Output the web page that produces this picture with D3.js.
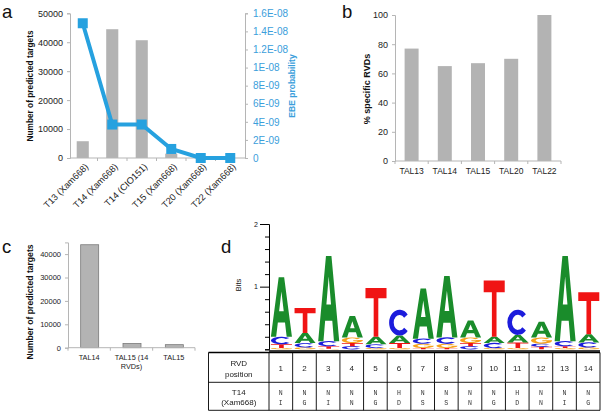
<!DOCTYPE html>
<html><head><meta charset="utf-8">
<script src="https://cdn.jsdelivr.net/npm/d3@7"></script>
<style>
html,body{margin:0;padding:0;background:#fff;}
svg{display:block;font-family:"Liberation Sans",Arial,Helvetica,sans-serif;}
</style></head><body>
<svg id="chart" width="602" height="412"></svg>
<script>
// ---------------- data ----------------
// panel a
const aCategories = ["T13 (Xam668)", "T14 (Xam668)", "T14 (CIO151)", "T15 (Xam668)", "T20 (Xam668)", "T22 (Xam668)"];
const aTargets = [5800, 44500, 40700, 1500, 0, 0];
const aEbeProb = [1.49e-8, 3.7e-9, 3.7e-9, 1.0e-9, 0, 0];
const aLeftTicks = [0, 10000, 20000, 30000, 40000, 50000];
const aRightTicks = [0, 2e-9, 4e-9, 6e-9, 8e-9, 1e-8, 1.2e-8, 1.4e-8, 1.6e-8];
const aRightTickLabels = ["0", "2E-09", "4E-09", "6E-09", "8E-09", "1E-08", "1.2E-08", "1.4E-08", "1.6E-08"];
// panel b
const bCategories = ["TAL13", "TAL14", "TAL15", "TAL20", "TAL22"];
const bPercent = [77, 65, 67, 70, 100];
const bTicks = [0, 20, 40, 60, 80, 100];
// panel c
const cCategories = ["TAL14", "TAL15 (14 RVDs)", "TAL15"];
const cTargets = [44000, 1800, 1300];
const cTicks = [0, 10000, 20000, 30000, 40000];
// panel d : sequence logo (bits per nucleotide at each position)
const logoPositions = ["1","2","3","4","5","6","7","8","9","10","11","12","13","14"];
const logoA = [0.95, 0.16, 1.36, 0.34, 0.12, 0.12, 0.80, 0.98, 0.27, 0.10, 0.12, 0.25, 1.36, 0.13];
const logoC = [0.12, 0.07, 0.08, 0.05, 0.06, 0.41, 0.08, 0.10, 0.05, 0.08, 0.40, 0.05, 0.08, 0.08];
const logoG = [0.02, 0.03, 0.01, 0.09, 0.02, 0.02, 0.07, 0.07, 0.09, 0.02, 0.02, 0.10, 0.02, 0.03];
const logoT = [0.06, 0.40, 0.04, 0.05, 0.78, 0.08, 0.02, 0.02, 0.05, 0.90, 0.09, 0.04, 0.03, 0.67];
const logoTicks = [0, 0.2, 0.4, 0.6, 0.8, 1, 1.2, 1.4, 1.6, 1.8, 2];
const rvdT14 = ["NI","NG","NI","NN","NG","HD","NS","NS","NN","NG","HD","NN","NI","NG"];

// ---------------- drawing ----------------
const svg = d3.select("#chart");
svg.append("rect").attr("width", 602).attr("height", 412).attr("fill", "#fff");

const BAR = "#b3b3b3", AXIS = "#b5b5b5", TXT = "#222", BLUE = "#26a1df", BLUE_T = "#3a9edb";

function styleAxis(g, lineColor, textColor, fs) {
  g.select(".domain").attr("stroke", lineColor);
  g.selectAll(".tick line").attr("stroke", lineColor);
  g.selectAll(".tick text").attr("fill", textColor).attr("font-size", fs)
    .attr("font-family", "'Liberation Sans',Arial,sans-serif");
}
function vLabel(x, y, text, fs, weight, color) {
  svg.append("text").attr("transform", `translate(${x},${y}) rotate(-90)`)
    .attr("text-anchor", "middle").attr("dy", "0.35em")
    .attr("font-size", fs).attr("font-weight", weight).attr("fill", color).text(text);
}
function panelLabel(x, y, t) {
  svg.append("text").attr("x", x).attr("y", y).attr("font-size", 18.5).attr("fill", "#111").text(t);
}

// ===== Panel a =====
panelLabel(2, 17.5, "a");
const ax = d3.scaleBand().domain(aCategories).range([68, 245]);
const ayL = d3.scaleLinear().domain([0, 50000]).range([158, 13.3]);
const ayR = d3.scaleLinear().domain([0, 1.6e-8]).range([158, 13.3]);
const aW = ax.bandwidth() * 0.41;

svg.append("g").selectAll("rect").data(aCategories).join("rect")
  .attr("x", (d) => ax(d) + (ax.bandwidth() - aW) / 2)
  .attr("y", (d, i) => ayL(aTargets[i]))
  .attr("width", aW)
  .attr("height", (d, i) => ayL(0) - ayL(aTargets[i]))
  .attr("fill", BAR);

const gaL = svg.append("g").attr("transform", "translate(70,0)")
  .call(d3.axisLeft(ayL).tickValues(aLeftTicks).tickSize(3).tickPadding(4).tickFormat(d3.format("d")));
styleAxis(gaL, AXIS, TXT, 9);
const gaR = svg.append("g").attr("transform", "translate(245,0)")
  .call(d3.axisRight(ayR).tickValues(aRightTicks).tickSize(3).tickPadding(5)
    .tickFormat((d, i) => aRightTickLabels[i]));
styleAxis(gaR, AXIS, BLUE_T, 10);

// x axis of a
const gaX = svg.append("g").attr("transform", "translate(0,158)");
gaX.append("line").attr("x1", 70).attr("x2", 245).attr("stroke", AXIS);
gaX.selectAll("line.t").data(aCategories.slice(1)).join("line").attr("class", "t")
  .attr("x1", (d) => ax(d)).attr("x2", (d) => ax(d)).attr("y1", 0).attr("y2", 3).attr("stroke", AXIS);
gaX.selectAll("text").data(aCategories).join("text")
  .attr("transform", (d) => `translate(${ax(d) + ax.bandwidth() / 2 + 4},7) rotate(-45)`)
  .attr("text-anchor", "end").attr("dy", "0.35em")
  .attr("font-size", 9.2).attr("fill", TXT).text((d) => d);

// line + markers
const aLine = d3.line().x((d, i) => ax(aCategories[i]) + ax.bandwidth() / 2).y((d) => ayR(d));
svg.append("path").datum(aEbeProb).attr("d", aLine).attr("fill", "none")
  .attr("stroke", BLUE).attr("stroke-width", 4).attr("stroke-linejoin", "round");
svg.append("g").selectAll("rect").data(aEbeProb).join("rect")
  .attr("x", (d, i) => ax(aCategories[i]) + ax.bandwidth() / 2 - 5)
  .attr("y", (d) => ayR(d) - 5).attr("width", 10).attr("height", 10).attr("fill", BLUE);

vLabel(30, 86, "Number of predicted targets", 8.3, "bold", "#111");
vLabel(292, 86, "EBE probability", 8.5, "bold", BLUE_T);

// ===== Panel b =====
panelLabel(342, 17.5, "b");
const bx = d3.scaleBand().domain(bCategories).range([395, 561]);
const by = d3.scaleLinear().domain([0, 100]).range([161, 15]);
const bW = 14;
svg.append("g").selectAll("rect").data(bCategories).join("rect")
  .attr("x", (d) => bx(d) + (bx.bandwidth() - bW) / 2)
  .attr("y", (d, i) => by(bPercent[i]))
  .attr("width", bW).attr("height", (d, i) => by(0) - by(bPercent[i]))
  .attr("fill", BAR);
const gbY = svg.append("g").attr("transform", "translate(395,0)")
  .call(d3.axisLeft(by).tickValues(bTicks).tickSize(3).tickPadding(4));
styleAxis(gbY, AXIS, TXT, 9);
const gbX = svg.append("g").attr("transform", "translate(0,161)");
gbX.append("line").attr("x1", 395).attr("x2", 561).attr("stroke", AXIS);
gbX.selectAll("line.t").data(bCategories.concat(["end"])).join("line").attr("class", "t")
  .attr("x1", (d, i) => bx.range()[0] + i * bx.step()).attr("x2", (d, i) => bx.range()[0] + i * bx.step())
  .attr("y1", 0).attr("y2", 3).attr("stroke", AXIS);
gbX.selectAll("text").data(bCategories).join("text")
  .attr("x", (d) => bx(d) + bx.bandwidth() / 2).attr("y", 13)
  .attr("text-anchor", "middle").attr("font-size", 8.5).attr("fill", TXT).text((d) => d);
vLabel(367, 89, "% specific RVDs", 9, "bold", "#111");

// ===== Panel c =====
panelLabel(2, 253, "c");
const cx = d3.scaleBand().domain(cCategories).range([68, 195]);
const cy = d3.scaleLinear().domain([0, 45000]).range([347.7, 242.4]);
const cW = 18;
svg.append("g").selectAll("rect").data(cCategories).join("rect")
  .attr("x", (d) => cx(d) + (cx.bandwidth() - cW) / 2 + 0.5)
  .attr("y", (d, i) => cy(cTargets[i]))
  .attr("width", cW).attr("height", (d, i) => cy(0) - cy(cTargets[i]))
  .attr("fill", BAR).attr("stroke", "#7a7a7a").attr("stroke-width", 0.8);
const gcY = svg.append("g").attr("transform", "translate(68,0)")
  .call(d3.axisLeft(cy).tickValues(cTicks).tickSize(3).tickPadding(4).tickFormat(d3.format("d")));
styleAxis(gcY, AXIS, TXT, 7.5);
const gcX = svg.append("g").attr("transform", "translate(0,347.7)");
gcX.append("line").attr("x1", 68).attr("x2", 195).attr("stroke", AXIS);
gcX.selectAll("line.t").data(cCategories.concat(["end"])).join("line").attr("class", "t")
  .attr("x1", (d, i) => cx.range()[0] + i * cx.step()).attr("x2", (d, i) => cx.range()[0] + i * cx.step())
  .attr("y1", 0).attr("y2", 3).attr("stroke", AXIS);
const cLab = gcX.selectAll("text").data(cCategories).join("text")
  .attr("text-anchor", "middle").attr("font-size", 7.3).attr("fill", TXT);
cLab.each(function (d) {
  const t = d3.select(this);
  const xc = cx(d) + cx.bandwidth() / 2;
  const words = d.split(" ");
  let line = [], lines = [];
  const probe = t.append("tspan");
  words.forEach((w) => {
    const test = line.concat([w]).join(" ");
    probe.text(test);
    if (probe.node().getComputedTextLength() > 38 && line.length) { lines.push(line.join(" ")); line = [w]; }
    else line.push(w);
  });
  lines.push(line.join(" "));
  probe.remove();
  lines.forEach((l, i) => t.append("tspan").attr("x", xc).attr("y", 12 + i * 9.5).text(l));
});
vLabel(30, 302, "Number of predicted targets", 8.6, "bold", "#111");

// ===== Panel d =====
panelLabel(221, 253, "d");
const dx = d3.scaleBand().domain(logoPositions).range([269, 600]);
const dy = d3.scaleLinear().domain([0, 2]).range([349.3, 224]);
const glyphs = {
  A: { c: "#1a8c2b", p: "M0,100 L37,0 L63,0 L100,100 L75,100 L67,76 L33,76 L25,100 Z M39,57 L61,57 L50,24 Z" },
  T: { c: "#f01414", p: "M0,0 L100,0 L100,21 L61,21 L61,100 L39,100 L39,21 L0,21 Z" },
  C: { c: "#1c1cdc", p: "M88.3,17.9 A50,50 0 1 0 88.3,82.1 L71.4,69.3 A28,30 0 1 1 71.4,30.7 Z" },
  G: { c: "#f6a21c", p: "M88.3,17.9 A50,50 0 1 0 100,52 L100,45 L54,45 L54,60 L76.4,60 A28,30 0 1 1 71.4,30.7 Z" }
};
const logoCols = logoPositions.map((p, i) => {
  const stack = [["A", logoA[i]], ["C", logoC[i]], ["G", logoG[i]], ["T", logoT[i]]]
    .sort((a, b) => a[1] - b[1]);
  let cum = 0;
  return stack.map(([l, h]) => { const o = { pos: p, l, y0: cum, y1: cum + h }; cum += h; return o; });
}).flat();
const lw = dx.bandwidth() * 0.89;
svg.append("g").selectAll("path").data(logoCols).join("path")
  .attr("d", (d) => glyphs[d.l].p).attr("fill", (d) => glyphs[d.l].c).attr("fill-rule", "evenodd")
  .attr("transform", (d) => {
    const x0 = dx(d.pos) + (dx.bandwidth() - lw) / 2 + 0.6;
    const ytop = dy(d.y1), h = dy(d.y0) - dy(d.y1);
    return `translate(${x0},${ytop}) scale(${lw / 100},${h / 100})`;
  });

const gdY = svg.append("g").attr("transform", "translate(269,0)")
  .call(d3.axisLeft(dy).tickValues(logoTicks).tickSizeOuter(0)
    .tickSize(4).tickFormat((d) => (d === 1 || d === 2) ? d3.format("d")(d) : ""));
gdY.select(".domain").attr("stroke", "#000");
gdY.selectAll(".tick line").attr("stroke", "#000")
  .attr("x2", (d) => (d === 1 || d === 2) ? -9 : -4);
gdY.selectAll(".tick text").attr("x", -11).attr("font-size", 7).attr("fill", "#111");
svg.append("text").attr("transform", "translate(238.5,285) rotate(-90)").attr("text-anchor", "middle")
  .attr("dy", "0.35em").attr("font-size", 7.5).attr("fill", "#111").text("Bits");

// table
const tTop = 352.5, tMid = 382.3, tBot = 410.3, tLeft = 208.5, tRight = 600;
const tbl = svg.append("g").style("filter", "grayscale(100%)");
tbl.append("line").attr("x1", tLeft).attr("x2", tRight).attr("y1", tTop).attr("y2", tTop).attr("stroke", "#000").attr("stroke-width", 1.4);
tbl.append("line").attr("x1", 269).attr("x2", tRight).attr("y1", 351).attr("y2", 351).attr("stroke", "#000").attr("stroke-width", 1.4);
tbl.append("line").attr("x1", tLeft).attr("x2", tRight).attr("y1", tMid).attr("y2", tMid).attr("stroke", "#000").attr("stroke-width", 0.9);
tbl.append("line").attr("x1", tLeft).attr("x2", tRight).attr("y1", tBot).attr("y2", tBot).attr("stroke", "#000").attr("stroke-width", 0.9);
const vx = [tLeft].concat(logoPositions.map((p) => dx(p))).concat([tRight]);
tbl.selectAll("line.v").data(vx).join("line").attr("class", "v")
  .attr("x1", (d) => d).attr("x2", (d) => d).attr("y1", tTop).attr("y2", tBot)
  .attr("stroke", "#000").attr("stroke-width", 0.9);
const firstC = (tLeft + 269) / 2;
tbl.append("text").attr("x", firstC).attr("y", 366).attr("text-anchor", "middle").attr("font-size", 8).attr("fill", TXT).text("RVD");
tbl.append("text").attr("x", firstC).attr("y", 376.5).attr("text-anchor", "middle").attr("font-size", 8).attr("fill", TXT).text("position");
tbl.append("text").attr("x", firstC).attr("y", 394.5).attr("text-anchor", "middle").attr("font-size", 8).attr("fill", TXT).text("T14");
tbl.append("text").attr("x", firstC).attr("y", 405).attr("text-anchor", "middle").attr("font-size", 8).attr("fill", TXT).text("(Xam668)");
tbl.selectAll("text.num").data(logoPositions).join("text").attr("class", "num")
  .attr("x", (d) => dx(d) + dx.bandwidth() / 2).attr("y", 371.3)
  .attr("text-anchor", "middle").attr("font-size", 8).attr("fill", TXT).text((d) => d);
tbl.selectAll("text.r1").data(rvdT14).join("text").attr("class", "r1")
  .attr("x", (d, i) => dx(logoPositions[i]) + dx.bandwidth() / 2).attr("y", 395)
  .attr("text-anchor", "middle").attr("font-size", 6.5).attr("font-family", "'Liberation Mono',monospace")
  .attr("fill", "#333").text((d) => d[0]);
tbl.selectAll("text.r2").data(rvdT14).join("text").attr("class", "r2")
  .attr("x", (d, i) => dx(logoPositions[i]) + dx.bandwidth() / 2).attr("y", 404.5)
  .attr("text-anchor", "middle").attr("font-size", 6.5).attr("font-family", "'Liberation Mono',monospace")
  .attr("fill", "#333").text((d) => d[1]);
</script>
</body></html>
